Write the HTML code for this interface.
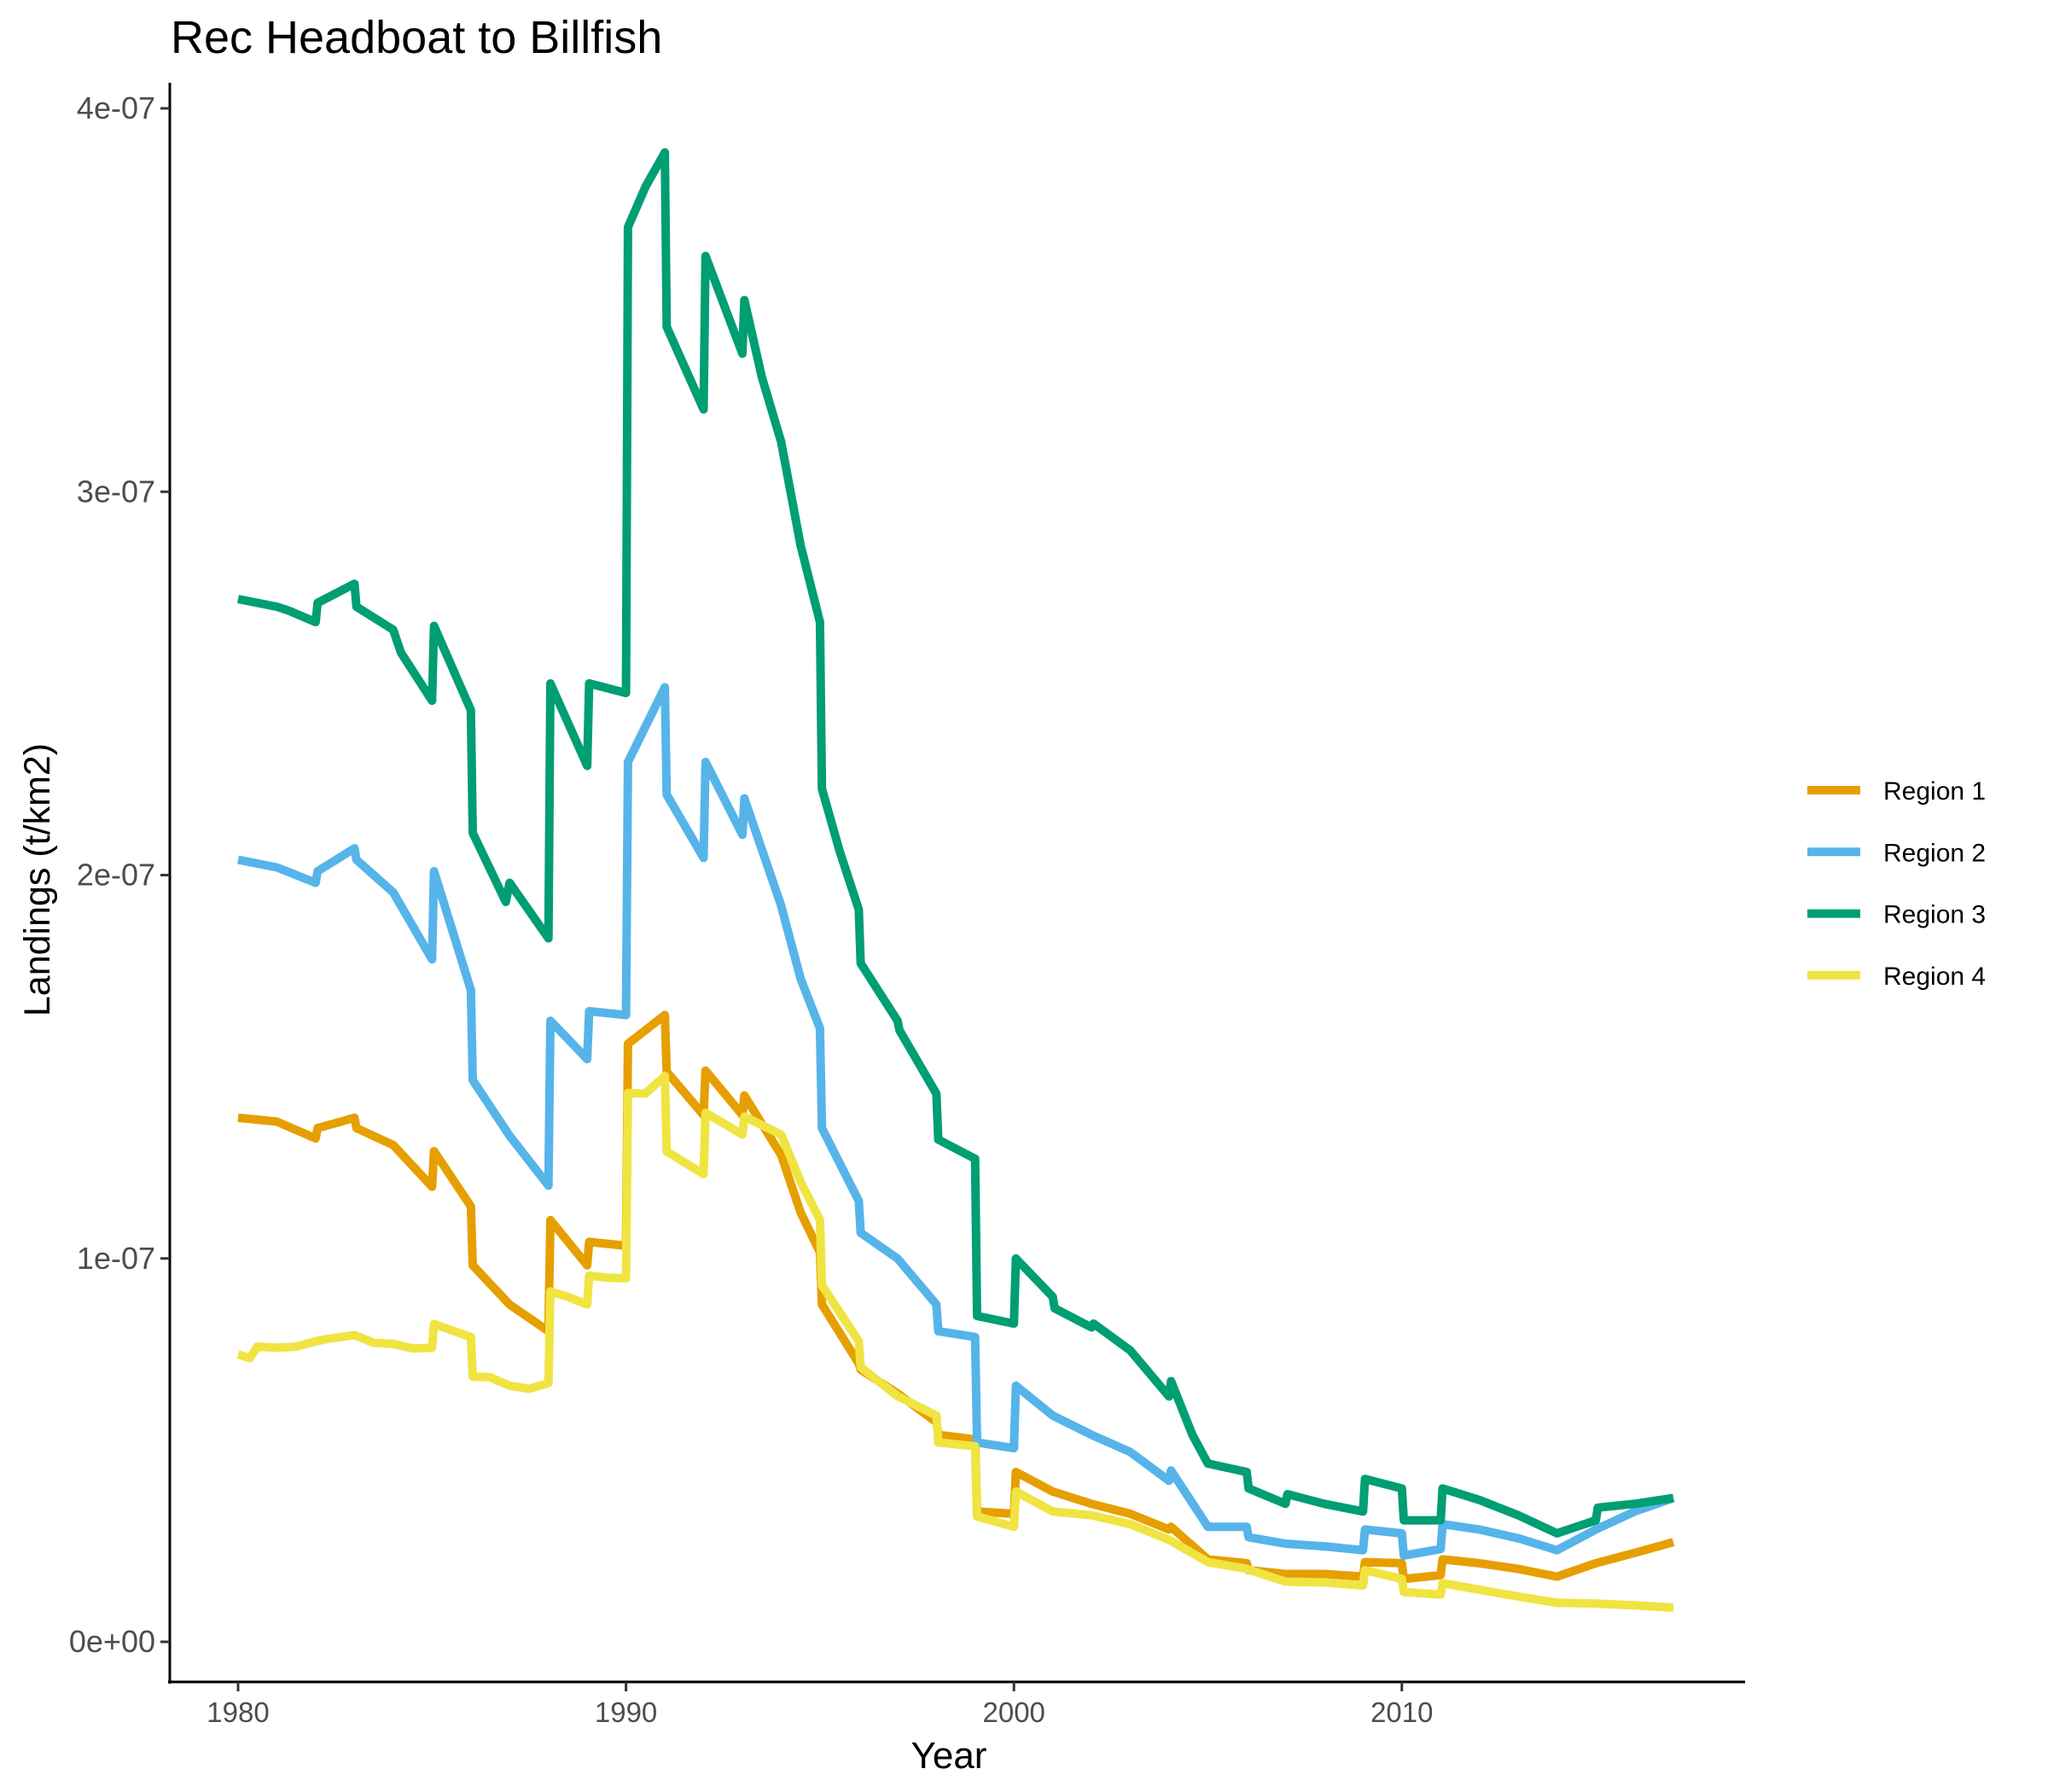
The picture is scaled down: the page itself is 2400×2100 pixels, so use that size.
<!DOCTYPE html>
<html><head><meta charset="utf-8"><style>
body{margin:0;background:#fff}
svg{display:block;font-family:"Liberation Sans",Arial,sans-serif}
</style></head><body>
<svg id="chart" width="2400" height="2100" viewBox="0 0 2400 2100">
<text x="200" y="62" font-size="54" fill="#000">Rec Headboat to Billfish</text>
<g id="plot"></g>
<g id="axes"></g>
<text x="1112" y="2072" font-size="44" text-anchor="middle" fill="#000">Year</text>
<text transform="translate(58,1031) rotate(-90)" font-size="43" text-anchor="middle" fill="#000">Landings (t/km2)</text>
<g id="legend"></g>
</svg>
<script>
const seriesNames=["Region 1","Region 2","Region 3","Region 4"];
const seriesColors=["#E69F00","#56B4E9","#009E73","#F0E442"];
const xTicks=[1980,1990,2000,2010];
const yTicks=[0,1e-7,2e-7,3e-7,4e-7];
const yTickLabels=["0e+00","1e-07","2e-07","3e-07","4e-07"];
const r1Years=[1980,1981,1982,1982.05,1983,1983.05,1984,1985,1985.05,1986,1986.05,1987,1988,1988.05,1989,1989.05,1990,1990.05,1991,1991.05,1992,1992.05,1993,1993.05,1994,1994.5,1995,1995.05,1996,1996.05,1997,1998,1998.05,1999,1999.05,2000,2000.05,2001,2002,2003,2004,2004.05,2005,2006,2006.05,2007,2008,2009,2009.05,2010,2010.05,2011,2011.05,2012,2013,2014,2015,2016,2017];
const r1Vals=[1.367,1.357,1.313,1.34,1.367,1.34,1.296,1.187,1.28,1.136,0.982,0.88,0.81,1.10,0.982,1.043,1.033,1.56,1.635,1.487,1.374,1.49,1.374,1.425,1.27,1.12,1.016,0.88,0.726,0.71,0.648,0.573,0.54,0.528,0.34,0.334,0.443,0.392,0.36,0.334,0.293,0.30,0.215,0.205,0.187,0.177,0.177,0.17,0.208,0.205,0.164,0.174,0.215,0.205,0.19,0.17,0.205,0.232,0.26];
const r2Years=[1980,1981,1982,1982.05,1983,1983.05,1984,1985,1985.05,1986,1986.05,1987,1988,1988.05,1989,1989.05,1990,1990.05,1991,1991.05,1992,1992.05,1993,1993.05,1994,1994.5,1995,1995.05,1996,1996.05,1997,1998,1998.05,1999,1999.05,2000,2000.05,2001,2002,2003,2004,2004.05,2005,2006,2006.05,2007,2008,2009,2009.05,2010,2010.05,2011,2011.05,2012,2013,2014,2015,2016,2017];
const r2Vals=[2.04,2.02,1.98,2.01,2.07,2.04,1.955,1.78,2.01,1.70,1.465,1.32,1.19,1.62,1.52,1.645,1.635,2.295,2.49,2.21,2.045,2.295,2.105,2.20,1.92,1.73,1.60,1.34,1.15,1.067,1.0,0.88,0.81,0.795,0.52,0.505,0.668,0.59,0.54,0.495,0.42,0.447,0.30,0.30,0.273,0.256,0.249,0.239,0.293,0.283,0.225,0.242,0.307,0.293,0.27,0.239,0.293,0.34,0.375];
const r3Years=[1980,1981,1981.3,1982,1982.05,1983,1983.05,1984,1984.2,1985,1985.05,1986,1986.05,1986.9,1987,1988,1988.05,1989,1989.05,1990,1990.05,1990.5,1991,1991.05,1992,1992.05,1993,1993.05,1993.5,1994,1994.5,1995,1995.05,1995.5,1996,1996.05,1997,1997.05,1998,1998.05,1999,1999.05,2000,2000.05,2001,2001.05,2002,2002.05,2003,2004,2004.05,2004.6,2005,2006,2006.05,2007,2007.05,2008,2009,2009.05,2010,2010.05,2011,2011.05,2012,2013,2014,2015,2015.05,2016,2017];
const r3Vals=[2.72,2.70,2.69,2.66,2.71,2.76,2.70,2.64,2.58,2.455,2.65,2.43,2.11,1.93,1.98,1.835,2.50,2.285,2.50,2.475,3.69,3.795,3.885,3.43,3.215,3.615,3.36,3.50,3.30,3.13,2.86,2.66,2.225,2.065,1.91,1.77,1.62,1.595,1.43,1.31,1.26,0.85,0.83,1.0,0.90,0.87,0.82,0.83,0.76,0.64,0.68,0.54,0.465,0.443,0.40,0.36,0.385,0.36,0.34,0.425,0.40,0.317,0.317,0.40,0.37,0.33,0.283,0.317,0.35,0.36,0.375];
const r4Years=[1980,1980.3,1980.5,1981,1981.5,1982,1982.3,1983,1983.5,1984,1984.5,1985,1985.05,1986,1986.05,1986.5,1987,1987.5,1988,1988.05,1988.5,1989,1989.05,1989.5,1990,1990.05,1990.5,1991,1991.05,1992,1992.05,1993,1993.05,1994,1994.5,1995,1995.05,1996,1996.05,1997,1998,1998.05,1999,1999.05,2000,2000.05,2001,2002,2003,2004,2005,2006,2007,2008,2009,2009.05,2010,2010.05,2011,2011.05,2012,2013,2014,2015,2016,2017];
const r4Vals=[0.75,0.74,0.77,0.767,0.77,0.784,0.79,0.80,0.78,0.777,0.765,0.767,0.829,0.795,0.692,0.69,0.668,0.66,0.675,0.914,0.90,0.88,0.955,0.95,0.948,1.432,1.43,1.476,1.279,1.22,1.38,1.323,1.37,1.323,1.20,1.10,0.93,0.784,0.716,0.641,0.59,0.52,0.51,0.327,0.30,0.392,0.34,0.33,0.307,0.266,0.208,0.19,0.157,0.155,0.147,0.187,0.164,0.13,0.123,0.153,0.136,0.118,0.102,0.10,0.095,0.089];
const allYears=[r1Years,r2Years,r3Years,r4Years];
const allVals=[r1Vals,r2Vals,r3Vals,r4Vals];

const NS="http://www.w3.org/2000/svg";
const xS=y=>279+(y-1980)*45.46;
const yS=v=>1924-v*4492500000;
const plot=document.getElementById('plot');
const axes=document.getElementById('axes');
const legend=document.getElementById('legend');
function mk(tag,attrs,parent){const e=document.createElementNS(NS,tag);for(const k in attrs)e.setAttribute(k,attrs[k]);parent.appendChild(e);return e;}

for(let s=0;s<4;s++){
  const pts=allYears[s].map((yr,i)=>xS(yr).toFixed(1)+","+yS(allVals[s][i]*1e-7).toFixed(1)).join(" ");
  const pl=mk('polyline',{points:pts,fill:'none',stroke:seriesColors[s],'stroke-width':10,'stroke-linejoin':'round'},plot);
  
  
}
const yl=mk('line',{x1:199,y1:97,x2:199,y2:1973,stroke:'#000','stroke-width':3},axes);


const xl=mk('line',{x1:197,y1:1971,x2:2045,y2:1971,stroke:'#000','stroke-width':3},axes);


yTicks.forEach((v,i)=>{
  const y=yS(v);
  const t=mk('line',{x1:188,y1:y,x2:199,y2:y,stroke:'#333','stroke-width':3},axes);
  
  
  const tx=mk('text',{x:182,y:y+12,'font-size':36,'text-anchor':'end',fill:'#4d4d4d'},axes);
  tx.textContent=yTickLabels[i];
  
  
});
xTicks.forEach(v=>{
  const x=xS(v);
  const t=mk('line',{x1:x,y1:1971,x2:x,y2:1982,stroke:'#333','stroke-width':3},axes);
  
  
  const tx=mk('text',{x:x,y:2018,'font-size':33,'text-anchor':'middle',fill:'#4d4d4d'},axes);
  tx.textContent=String(v);
  
  
});
seriesNames.forEach((n,i)=>{
  const y=926+i*72.3;
  const g=mk('g',{},legend);
  
  
  mk('line',{x1:2118,y1:y,x2:2180,y2:y,stroke:seriesColors[i],'stroke-width':10},g);
  const tx=mk('text',{x:2207,y:y+11,'font-size':30,fill:'#000'},g);
  tx.textContent=n;
});
</script>
</body></html>
